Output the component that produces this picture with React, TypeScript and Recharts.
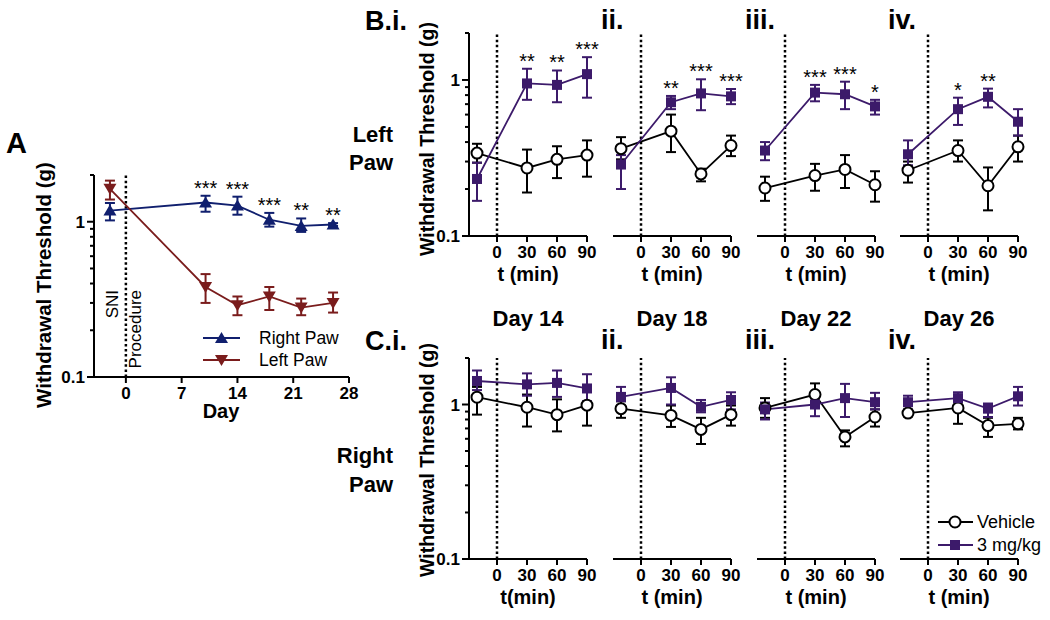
import React from 'react'
import { ComposedChart, Line, XAxis, YAxis, ErrorBar, ReferenceLine, LabelList } from 'recharts'

const FONT = '"Liberation Sans", Arial, Helvetica, sans-serif'
const BLUE = '#101f6e'
const RED = '#7a1c1c'
const PURPLE = '#3c1a6a'

// ---- Panel A: days after SNI ----
const aDays = [-2, 10, 14, 18, 22, 26]
const aRight = [1.18, 1.33, 1.27, 1.03, 0.94, 0.96]
const aRightLo = [1.02, 1.16, 1.11, 0.93, 0.86, 0.94]
const aRightHi = [1.32, 1.47, 1.45, 1.14, 1.05, 0.98]
const aLeft = [1.63, 0.38, 0.29, 0.33, 0.28, 0.3]
const aLeftLo = [1.39, 0.3, 0.25, 0.27, 0.25, 0.26]
const aLeftHi = [1.84, 0.46, 0.33, 0.38, 0.32, 0.35]
const aStars = ['', '***', '***', '***', '**', '**']
const aXTicks = [0, 7, 14, 21, 28]

// ---- Panels B / C: minutes after dosing ----
const tMin = [-20, 30, 60, 90]
const tTicks = [0, 30, 60, 90]
const yTicks = [0.1, 0.2, 0.3, 0.4, 0.5, 0.6, 0.7, 0.8, 0.9, 1, 2]

const bVeh = [[0.34, 0.273, 0.31, 0.33], [0.363, 0.47, 0.25, 0.38], [0.203, 0.244, 0.267, 0.213], [0.264, 0.353, 0.21, 0.373]]
const bVehLo = [[0.295, 0.19, 0.235, 0.24], [0.31, 0.345, 0.224, 0.325], [0.168, 0.195, 0.203, 0.166], [0.22, 0.3, 0.146, 0.3]]
const bVehHi = [[0.39, 0.358, 0.376, 0.41], [0.43, 0.6, 0.27, 0.44], [0.24, 0.29, 0.33, 0.26], [0.3, 0.41, 0.275, 0.44]]
const bDrug = [[0.232, 0.95, 0.93, 1.09], [0.287, 0.72, 0.82, 0.785], [0.353, 0.83, 0.81, 0.677], [0.334, 0.65, 0.78, 0.54]]
const bDrugLo = [[0.168, 0.746, 0.72, 0.77], [0.2, 0.65, 0.64, 0.7], [0.306, 0.73, 0.65, 0.6], [0.284, 0.515, 0.667, 0.44]]
const bDrugHi = [[0.295, 1.18, 1.15, 1.4], [0.33, 0.79, 1.01, 0.875], [0.4, 0.93, 0.975, 0.746], [0.41, 0.77, 0.88, 0.65]]
const bStars = [['', '**', '**', '***'], ['', '**', '***', '***'], ['', '***', '***', '*'], ['', '*', '**', '']]

const cVeh = [[1.115, 0.96, 0.86, 0.99], [0.94, 0.85, 0.69, 0.86], [0.95, 1.16, 0.617, 0.83], [0.88, 0.95, 0.73, 0.75]]
const cVehLo = [[0.86, 0.72, 0.67, 0.73], [0.82, 0.716, 0.555, 0.73], [0.82, 0.985, 0.536, 0.72], [0.84, 0.75, 0.617, 0.69]]
const cVehHi = [[1.3, 1.16, 1.08, 1.25], [1.05, 0.985, 0.82, 0.985], [1.1, 1.37, 0.68, 0.93], [0.92, 1.06, 0.82, 0.82]]
const cDrug = [[1.42, 1.35, 1.38, 1.27], [1.12, 1.28, 0.966, 1.07], [0.93, 1.0, 1.1, 1.035], [1.035, 1.1, 0.94, 1.13]]
const cDrugLo = [[1.24, 1.14, 1.12, 1.05], [1.05, 1.0, 0.89, 0.93], [0.8, 0.84, 0.83, 0.93], [0.93, 0.985, 0.83, 0.985]]
const cDrugHi = [[1.66, 1.59, 1.66, 1.57], [1.3, 1.5, 1.07, 1.2], [1.03, 1.18, 1.36, 1.19], [1.14, 1.2, 1.015, 1.3]]

const subLabels = ['i.', 'ii.', 'iii.', 'iv.']
const dayLabels = ['Day 14', 'Day 18', 'Day 22', 'Day 26']
const colLefts = [469, 613, 757, 900]

const toRows = (xs: number[], m: number[], lo: number[], hi: number[]) =>
  xs.map((x, i) => ({ x, y: m[i], err: [m[i] - lo[i], hi[i] - m[i]] }))

const toStars = (xs: number[], hi: number[], sig: string[]) =>
  xs.map((x, i) => ({ x, y: hi[i], sig: sig[i] })).filter(d => d.sig)

function Marker({ cx, cy, shape, color }: any) {
  if (cx == null || cy == null) return null
  if (shape === 'up') return <polygon points={`${cx},${cy - 6} ${cx - 6.5},${cy + 5} ${cx + 6.5},${cy + 5}`} fill={color} />
  if (shape === 'down') return <polygon points={`${cx},${cy + 6} ${cx - 6.5},${cy - 5} ${cx + 6.5},${cy - 5}`} fill={color} />
  if (shape === 'square') return <rect x={cx - 5} y={cy - 5} width={10} height={10} fill={color} />
  return <circle cx={cx} cy={cy} r={5.5} fill="#fff" stroke={color} strokeWidth={2} />
}

function LogTick({ x, y, payload }: any) {
  const v = payload.value
  const major = v === 0.1 || v === 1
  return (
    <g>
      <line x1={x - (major ? 7 : 4)} x2={x} y1={y} y2={y} stroke="#000" strokeWidth={2} />
      {major && (
        <text x={x - 9} y={y} dy="0.36em" textAnchor="end" fontSize={17} fontWeight={700} fontFamily={FONT} fill="#000">
          {v}
        </text>
      )}
    </g>
  )
}

interface Series {
  rows: { x: number; y: number; err: number[] }[]
  color: string
  shape: string
}

interface PanelProps {
  plotLeft: number
  plotTop: number
  plotW: number
  plotH: number
  showY: boolean
  xDomain: number[]
  xTicks: number[]
  series: Series[]
  stars: { x: number; y: number; sig: string }[]
}

function Panel({ plotLeft, plotTop, plotW, plotH, showY, xDomain, xTicks, series, stars }: PanelProps) {
  const yW = showY ? 50 : 0
  const mT = 6
  const mR = 20
  const xH = 32
  return (
    <div style={{ position: 'absolute', left: plotLeft - yW, top: plotTop - mT }}>
      <ComposedChart width={yW + plotW + mR} height={mT + plotH + xH} margin={{ top: mT, right: mR, bottom: 0, left: 0 }}>
        <XAxis
          dataKey="x"
          type="number"
          domain={xDomain}
          ticks={xTicks}
          interval={0}
          height={xH}
          tickSize={6}
          tickMargin={4}
          axisLine={{ stroke: '#000', strokeWidth: 2 }}
          tickLine={{ stroke: '#000', strokeWidth: 2 }}
          tick={{ fill: '#000', fontSize: 17, fontWeight: 700, fontFamily: FONT }}
        />
        <YAxis
          type="number"
          scale="log"
          domain={[0.1, 2]}
          ticks={yTicks}
          interval={0}
          hide={!showY}
          width={yW}
          tickSize={0}
          tickMargin={0}
          tickLine={false}
          axisLine={{ stroke: '#000', strokeWidth: 2 }}
          tick={<LogTick />}
        />
        <ReferenceLine x={0} stroke="#000" strokeWidth={2.5} strokeDasharray="2.5 2.6" />
        {series.map((s, k) => (
          <Line
            key={k}
            data={s.rows}
            dataKey="y"
            type="linear"
            stroke={s.color}
            strokeWidth={1.8}
            isAnimationActive={false}
            activeDot={false}
            dot={(p: any) => <Marker key={`${k}-${p.index}`} cx={p.cx} cy={p.cy} shape={s.shape} color={s.color} />}
          >
            <ErrorBar dataKey="err" direction="y" width={5} stroke={s.color} strokeWidth={2} isAnimationActive={false} />
          </Line>
        ))}
        <Line data={stars} dataKey="y" stroke="none" dot={false} activeDot={false} isAnimationActive={false}>
          <LabelList dataKey="sig" position="top" offset={1} fill="#000" fontSize={20} fontFamily={FONT} />
        </Line>
      </ComposedChart>
    </div>
  )
}

const T = { fontFamily: FONT, fill: '#000' }

export default function App() {
  return (
    <div style={{ position: 'absolute', left: 0, top: 0, width: 1050, height: 620, background: '#fff', overflow: 'hidden' }}>
      <Panel
        plotLeft={94}
        plotTop={175}
        plotW={255}
        plotH={202}
        showY
        xDomain={[-4, 28]}
        xTicks={aXTicks}
        series={[
          { rows: toRows(aDays, aRight, aRightLo, aRightHi), color: BLUE, shape: 'up' },
          { rows: toRows(aDays, aLeft, aLeftLo, aLeftHi), color: RED, shape: 'down' },
        ]}
        stars={toStars(aDays, aRightHi, aStars)}
      />
      {colLefts.map((l, i) => (
        <Panel
          key={`b${i}`}
          plotLeft={l}
          plotTop={33}
          plotW={118}
          plotH={203}
          showY={i === 0}
          xDomain={[-28, 90]}
          xTicks={tTicks}
          series={[
            { rows: toRows(tMin, bVeh[i], bVehLo[i], bVehHi[i]), color: '#000', shape: 'circle' },
            { rows: toRows(tMin, bDrug[i], bDrugLo[i], bDrugHi[i]), color: PURPLE, shape: 'square' },
          ]}
          stars={toStars(tMin, bDrugHi[i], bStars[i])}
        />
      ))}
      {colLefts.map((l, i) => (
        <Panel
          key={`c${i}`}
          plotLeft={l}
          plotTop={358}
          plotW={118}
          plotH={201}
          showY={i === 0}
          xDomain={[-28, 90]}
          xTicks={tTicks}
          series={[
            { rows: toRows(tMin, cVeh[i], cVehLo[i], cVehHi[i]), color: '#000', shape: 'circle' },
            { rows: toRows(tMin, cDrug[i], cDrugLo[i], cDrugHi[i]), color: PURPLE, shape: 'square' },
          ]}
          stars={[]}
        />
      ))}

      <svg width={1050} height={620} style={{ position: 'absolute', left: 0, top: 0, pointerEvents: 'none' }}>
        {/* panel A */}
        <text x={6} y={153} fontSize={29} fontWeight={700} {...T}>A</text>
        <text transform="translate(43,285) rotate(-90)" textAnchor="middle" dominantBaseline="central" fontSize={20.5} fontWeight={700} {...T}>
          Withdrawal Threshold (g)
        </text>
        <text x={221} y={418} textAnchor="middle" fontSize={20} fontWeight={700} {...T}>Day</text>
        <text transform="translate(118,290) rotate(-90)" textAnchor="end" fontSize={17} {...T}>SNI</text>
        <text transform="translate(141,290) rotate(-90)" textAnchor="end" fontSize={17} {...T}>Procedure</text>
        <line x1={203} x2={240} y1={338} y2={338} stroke={BLUE} strokeWidth={2} />
        <Marker cx={221.5} cy={338} shape="up" color={BLUE} />
        <text x={259} y={344} fontSize={17.5} {...T}>Right Paw</text>
        <line x1={203} x2={240} y1={360} y2={360} stroke={RED} strokeWidth={2} />
        <Marker cx={221.5} cy={360} shape="down" color={RED} />
        <text x={259} y={366} fontSize={17.5} {...T}>Left Paw</text>

        {/* row labels */}
        <text x={407} y={30} textAnchor="end" fontSize={27} fontWeight={700} {...T}>B.i.</text>
        <text x={407} y={350} textAnchor="end" fontSize={27} fontWeight={700} {...T}>C.i.</text>
        {[1, 2, 3].map(i => (
          <g key={`sl${i}`}>
            <text x={colLefts[i] - 12} y={29} fontSize={27} fontWeight={700} {...T}>{subLabels[i]}</text>
            <text x={colLefts[i] - 12} y={349} fontSize={27} fontWeight={700} {...T}>{subLabels[i]}</text>
          </g>
        ))}
        <text x={393} y={142} textAnchor="end" fontSize={22} fontWeight={700} {...T}>Left</text>
        <text x={393} y={170} textAnchor="end" fontSize={22} fontWeight={700} {...T}>Paw</text>
        <text x={393} y={463} textAnchor="end" fontSize={22} fontWeight={700} {...T}>Right</text>
        <text x={393} y={492} textAnchor="end" fontSize={22} fontWeight={700} {...T}>Paw</text>
        <text transform="translate(427,139) rotate(-90)" textAnchor="middle" dominantBaseline="central" fontSize={19.5} fontWeight={700} {...T}>
          Withdrawal Threshold (g)
        </text>
        <text transform="translate(427,460) rotate(-90)" textAnchor="middle" dominantBaseline="central" fontSize={19.5} fontWeight={700} {...T}>
          Withdrawal Threshold (g)
        </text>

        {colLefts.map((l, i) => (
          <g key={`ax${i}`}>
            <text x={l + 59} y={281} textAnchor="middle" fontSize={20} fontWeight={700} {...T}>t (min)</text>
            <text x={l + 59} y={604} textAnchor="middle" fontSize={20} fontWeight={700} {...T}>{i === 0 ? 't(min)' : 't (min)'}</text>
            <text x={l + 59} y={326} textAnchor="middle" fontSize={22} fontWeight={700} {...T}>{dayLabels[i]}</text>
          </g>
        ))}

        {/* legend C.iv */}
        <line x1={938} x2={973} y1={522} y2={522} stroke="#000" strokeWidth={2} />
        <Marker cx={955} cy={522} shape="circle" color="#000" />
        <text x={977} y={528} fontSize={18} {...T}>Vehicle</text>
        <line x1={938} x2={973} y1={545} y2={545} stroke={PURPLE} strokeWidth={2} />
        <Marker cx={955} cy={545} shape="square" color={PURPLE} />
        <text x={977} y={551} fontSize={18} {...T}>3 mg/kg</text>
      </svg>
    </div>
  )
}
